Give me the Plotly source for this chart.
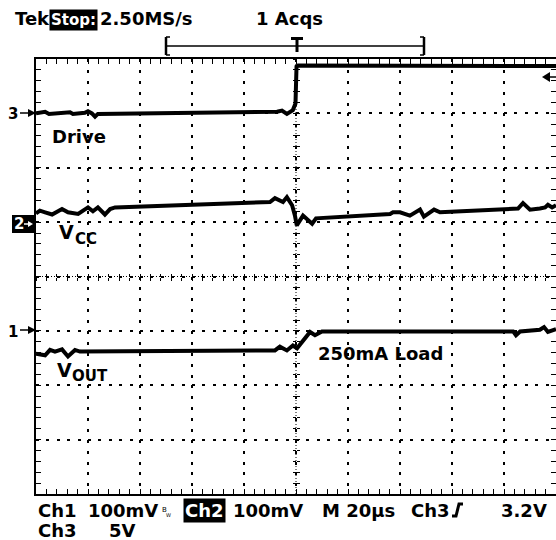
import plotly.graph_objects as go

# ---- data: time in microseconds (20 us/div, trigger at centre), level in screen divisions ----
drive_t = [-100, -96.5, -95, -86.9, -85.8, -81.2, -80, -78.5, -77.3, -76.2, -7.3, -5.4, -3.5, -1.2, -0.2, 0.2, 0.8, 100]
drive_y = [3.00, 3.03, 2.99, 3.02, 2.99, 3.01, 3.04, 3.00, 2.94, 2.99, 3.03, 3.05, 2.99, 3.06, 3.18, 3.86, 3.88, 3.87]

vcc_t = [-100, -98.5, -96.5, -93.8, -90, -87.7, -83.8, -80, -78.1, -76.2, -73.5, -71.5, -69.6, -10, -8.1, -6.2, -5,
         -3.5, -1.5, -0.4, 0.3, 2.7, 6.2, 7.7, 36.2, 37.3, 40, 43.8, 47.7, 49.2, 53.1, 55.4, 85.4, 87.3, 90, 93.8,
         95.8, 96.9, 98.5, 100]
vcc_y = [1.16, 1.21, 1.18, 1.14, 1.24, 1.18, 1.15, 1.27, 1.20, 1.27, 1.14, 1.24, 1.27, 1.37, 1.44, 1.40, 1.37,
         1.46, 1.31, 1.12, 0.94, 1.12, 0.97, 1.07, 1.15, 1.18, 1.18, 1.12, 1.23, 1.10, 1.23, 1.18, 1.25, 1.35, 1.23, 1.25,
         1.27, 1.32, 1.27, 1.31]

vout_t = [-100, -96.5, -94.6, -92.7, -90, -87.7, -85, -83.1, -8.1, -6.2, -3.5, -1.2, 0.4, 3.5, 5.4, 7.3, 10,
          83.5, 84.6, 86.2, 93.8, 95.4, 96.9, 100]
vout_y = [-1.42, -1.45, -1.35, -1.38, -1.34, -1.47, -1.35, -1.38, -1.36, -1.29, -1.36, -1.27, -1.32, -1.13, -1.02,
          -1.08, -1.01, -1.01, -1.08, -1.01, -0.98, -0.93, -1.02, -0.97]

# ---- geometry ----
W, H = 556, 540
L, R, T, B = 36, 556, 59, 494
FONT = "DejaVu Sans"


def px(x):
    return (x - L) / (R - L)


def py(y):
    return (B - y) / (B - T)


fig = go.Figure()
for t, y in [(drive_t, drive_y), (vcc_t, vcc_y), (vout_t, vout_y)]:
    fig.add_trace(go.Scatter(x=t, y=y, mode="lines", line=dict(color="black", width=4),
                             hoverinfo="skip", showlegend=False))

# empty traces so that the centre tick axes are drawn
for xa, ya in [("x2", "y"), ("x3", "y"), ("x", "y2"), ("x", "y3")]:
    fig.add_trace(go.Scatter(x=[], y=[], xaxis=xa, yaxis=ya, showlegend=False, hoverinfo="skip"))

minor_x = dict(dtick=4, ticks="inside", ticklen=5, tickwidth=1, tickcolor="black", showgrid=False)
minor_y = dict(dtick=0.2, ticks="inside", ticklen=5, tickwidth=1, tickcolor="black", showgrid=False)


def centre_axis(rng, dt, ticks, overlay):
    return dict(range=rng, overlaying=overlay, anchor="free", position=0.5, tick0=0, dtick=dt,
                ticks=ticks, ticklen=3, tickwidth=1, tickcolor="black", showgrid=False, zeroline=False,
                showline=False, showticklabels=False, fixedrange=True)


fig.update_layout(
    width=W, height=H,
    margin=dict(l=L, r=W - R, t=T, b=H - B, pad=0, autoexpand=False),
    paper_bgcolor="white", plot_bgcolor="white",
    showlegend=False,
    font=dict(family=FONT, color="black"),
    xaxis=dict(range=[-100, 100], tick0=0, dtick=20, showgrid=True, gridcolor="black", gridwidth=2,
               griddash="3px,7.88px", zeroline=False, showline=True, linecolor="black", linewidth=2,
               mirror="ticks", ticks="inside", ticklen=5, tickcolor="black", showticklabels=False,
               minor=minor_x, fixedrange=True),
    yaxis=dict(range=[-4, 4], tick0=0, dtick=1, showgrid=True, gridcolor="black", gridwidth=2,
               griddash="3px,7.4px", zeroline=False, showline=True, linecolor="black", linewidth=2,
               mirror="ticks", ticks="inside", ticklen=5, tickcolor="black", showticklabels=False,
               minor=minor_y, fixedrange=True),
    xaxis2=centre_axis([-100, 100], 4, "inside", "x"),
    xaxis3=centre_axis([-100, 100], 4, "outside", "x"),
    yaxis2=centre_axis([-4, 4], 0.2, "inside", "y"),
    yaxis3=centre_axis([-4, 4], 0.2, "outside", "y"),
)

shapes = []
# centre dotted crosshair
shapes.append(dict(type="line", xref="x", yref="paper", x0=0, x1=0, y0=0, y1=1,
                   line=dict(color="black", width=1, dash="1px,2px")))
shapes.append(dict(type="line", xref="paper", yref="y", x0=0, x1=1, y0=0, y1=0,
                   line=dict(color="black", width=1, dash="1px,2px")))


def pline(x0, y0, x1, y1, w=1.5, color="black"):
    shapes.append(dict(type="line", xref="paper", yref="paper", x0=px(x0), y0=py(y0), x1=px(x1), y1=py(y1),
                       line=dict(color=color, width=w), layer="above"))


def ppath(pts, fill="black", w=0):
    d = "M " + " L ".join(f"{px(a):.5f},{py(b):.5f}" for a, b in pts) + " Z"
    shapes.append(dict(type="path", xref="paper", yref="paper", path=d, fillcolor=fill,
                       line=dict(color=fill, width=w), layer="above"))


# trigger position bracket
pline(166, 46, 424, 46, 1.5)
pline(166, 37, 166, 55, 2.5)
pline(166, 37, 170, 37, 1.5)
pline(166, 55, 170, 55, 1.5)
pline(424, 37, 424, 55, 2.5)
pline(420, 37, 424, 37, 1.5)
pline(420, 55, 424, 55, 1.5)
pline(291, 38.5, 303, 38.5, 3)
pline(297, 38, 297, 52, 3)

# right trigger-level arrow
ppath([(542, 77), (550, 72), (550, 82)])
pline(550, 77, 557, 77, 1.5)

# channel markers
pline(20, 113, 29, 113, 1.5)
ppath([(28, 109), (36, 113), (28, 117)])
ppath([(12, 215), (35, 215), (35, 233), (12, 233)])
pline(24, 224, 29, 224, 1.5, color="white")
ppath([(28, 221), (33, 224), (28, 227)], fill="white")
pline(20, 330, 29, 330, 1.5)
ppath([(28, 326), (36, 330), (28, 334)])

# trigger slope symbol
shapes.append(dict(type="path", xref="paper", yref="paper",
                   path="M {:.5f},{:.5f} L {:.5f},{:.5f} L {:.5f},{:.5f} L {:.5f},{:.5f}".format(
                       px(452), py(516), px(456), py(516), px(459), py(504), px(463), py(504)),
                   line=dict(color="black", width=3)))

fig.update_layout(shapes=shapes)

ann = []


def text(s, x, y, size=18, color="black", xanchor="left", bg=None, pad=1, bold=True):
    d = dict(text=s, x=px(x), y=py(y), xref="paper", yref="paper", xanchor=xanchor, yanchor="middle",
             showarrow=False, font=dict(family=FONT, size=size, color=color, weight="bold" if bold else "normal"))
    if bg:
        d["bgcolor"] = bg
        d["borderpad"] = pad
    ann.append(d)


# header
text("Tek", 13, 19)
text("Stop:", 49, 20, size=15, color="white", bg="black", pad=1)
text("2.50MS/s", 98, 19)
text("1 Acqs", 254, 19)

# channel marker numbers
text("3", 6, 114, size=15)
text("2", 12, 224, size=15, color="white")
text("1", 6, 332, size=15)

# trace labels
text("Drive", 50, 136)
text("V", 57, 232, size=19)
text("CC", 73, 239, size=15)
text("V", 55, 370, size=19)
text("OUT", 70, 376, size=15)
text("250mA Load", 316, 353)

# footer
text("Ch1", 36, 510)
text("100mV", 86, 510)
text("B", 160, 510, size=7, bold=False)
text("W", 164, 515, size=5, bold=False)
text("Ch2", 183, 510, color="white", bg="black", pad=1)
text("100mV", 231, 510)
text("M 20µs", 320, 510)
text("Ch3", 409, 510)
text("3.2V", 499, 510)
text("Ch3", 36, 530)
text("5V", 107, 530)

fig.update_layout(annotations=ann)

fig.write_html("out.html", config={"displayModeBar": False},
               post_script="document.body.style.margin='0';document.body.style.overflow='hidden';")
